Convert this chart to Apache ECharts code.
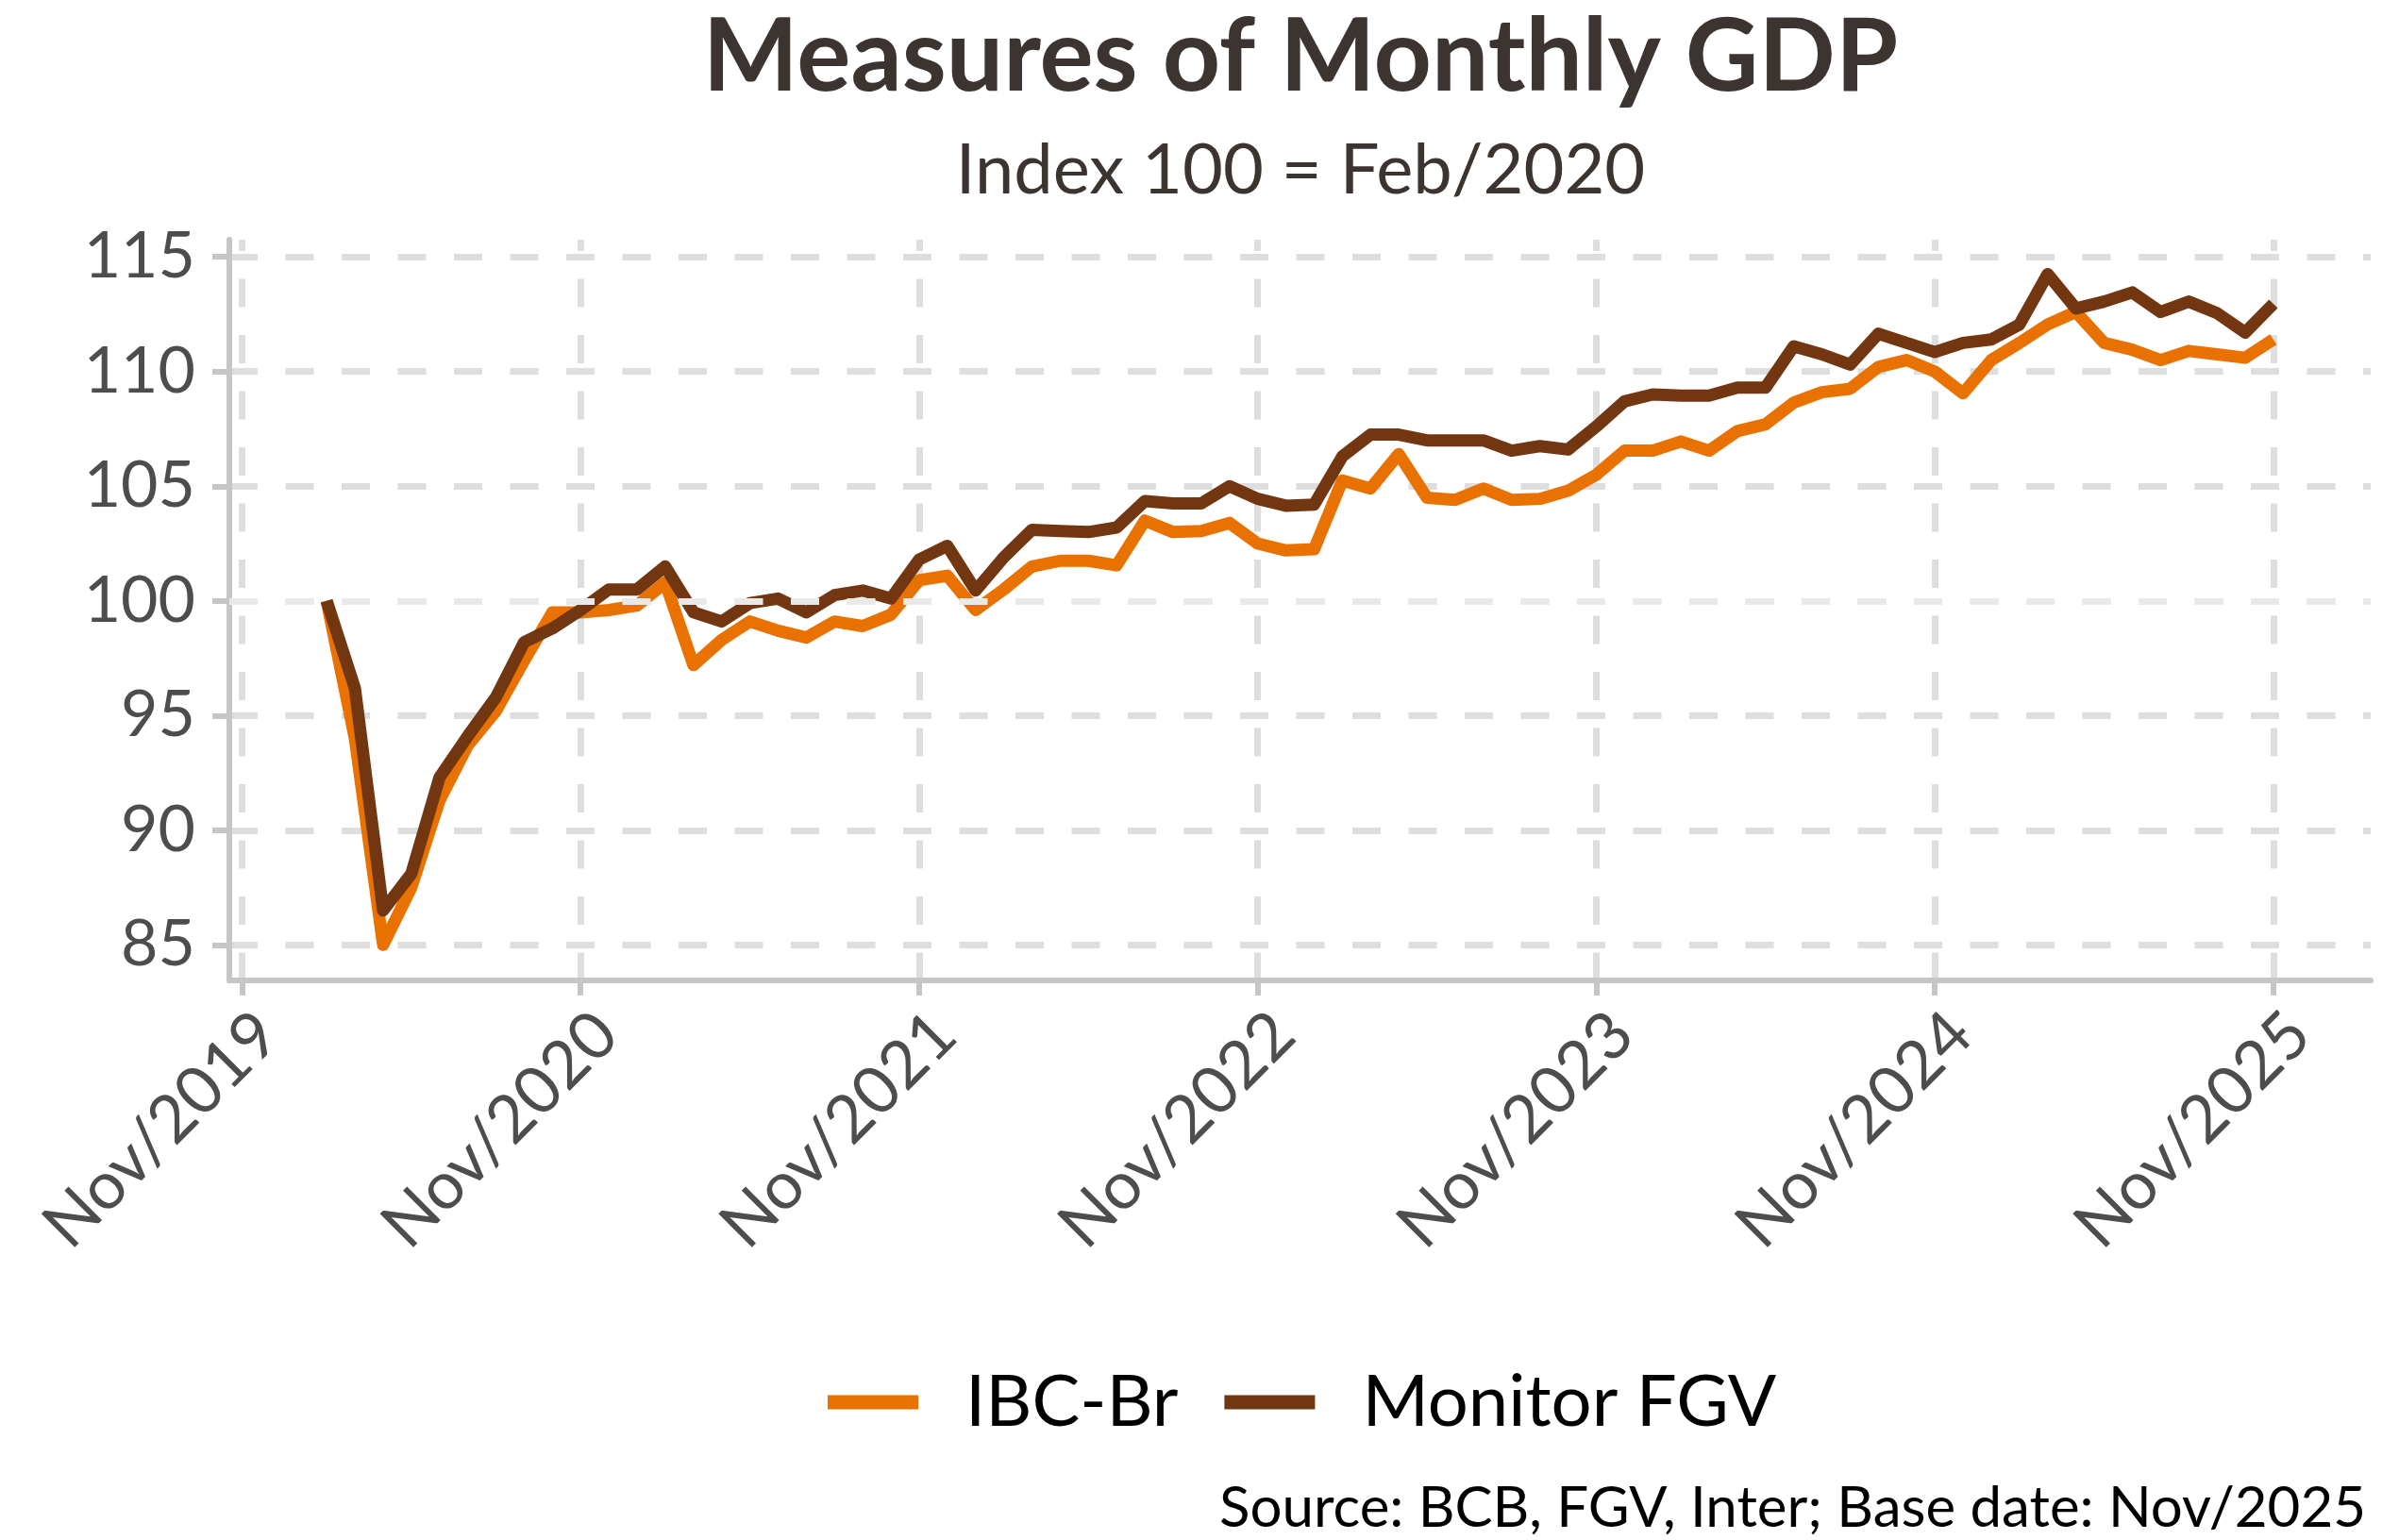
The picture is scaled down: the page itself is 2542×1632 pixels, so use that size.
<!DOCTYPE html>
<html>
<head>
<meta charset="utf-8">
<title>Measures of Monthly GDP</title>
<script src="https://cdn.jsdelivr.net/npm/echarts@6/dist/echarts.min.js"></script>
<style>
  html, body { margin: 0; padding: 0; background: #fff; }
  #chart { width: 2542px; height: 1632px; }
</style>
</head>
<body>
<div id="chart"></div>
<script>
// months of the two series (Feb/2020 .. Nov/2025)
const months = [
  "Feb/2020", "Mar/2020", "Apr/2020", "May/2020", "Jun/2020", "Jul/2020", "Aug/2020", "Sep/2020", "Oct/2020", "Nov/2020", "Dec/2020",
  "Jan/2021", "Feb/2021", "Mar/2021", "Apr/2021", "May/2021", "Jun/2021", "Jul/2021", "Aug/2021", "Sep/2021", "Oct/2021", "Nov/2021", "Dec/2021",
  "Jan/2022", "Feb/2022", "Mar/2022", "Apr/2022", "May/2022", "Jun/2022", "Jul/2022", "Aug/2022", "Sep/2022", "Oct/2022", "Nov/2022", "Dec/2022",
  "Jan/2023", "Feb/2023", "Mar/2023", "Apr/2023", "May/2023", "Jun/2023", "Jul/2023", "Aug/2023", "Sep/2023", "Oct/2023", "Nov/2023", "Dec/2023",
  "Jan/2024", "Feb/2024", "Mar/2024", "Apr/2024", "May/2024", "Jun/2024", "Jul/2024", "Aug/2024", "Sep/2024", "Oct/2024", "Nov/2024", "Dec/2024",
  "Jan/2025", "Feb/2025", "Mar/2025", "Apr/2025", "May/2025", "Jun/2025", "Jul/2025", "Aug/2025", "Sep/2025", "Oct/2025", "Nov/2025"
];

// IBC-Br, index Feb/2020 = 100
const ibcBr = [
  100, 94.0, 85.0, 87.5, 91.3, 93.7, 95.2, 97.4, 99.5, 99.5, 99.6,
  99.8, 100.8, 97.2, 98.3, 99.1, 98.7, 98.4, 99.1, 98.9, 99.4, 100.9, 101.1,
  99.6, 100.5, 101.5, 101.75, 101.75, 101.55, 103.5, 103.0, 103.05, 103.4, 102.5, 102.2,
  102.25, 105.25, 104.9, 106.4, 104.5, 104.4, 104.9, 104.4, 104.45, 104.8, 105.5, 106.55,
  106.55, 106.95, 106.55, 107.4, 107.7, 108.65, 109.1, 109.25, 110.2, 110.5, 110.0, 109.05,
  110.5, 111.25, 112.05, 112.6, 111.25, 110.95, 110.5, 110.9, 110.75, 110.6, 111.4
];

// Monitor do PIB FGV, index Feb/2020 = 100
const monitorFgv = [
  100, 96.2, 86.5, 88.1, 92.3, 94.1, 95.8, 98.2, 98.8, 99.6, 100.5,
  100.5, 101.5, 99.5, 99.1, 99.9, 100.1, 99.5, 100.25, 100.45, 100.1, 101.8, 102.4,
  100.45, 101.9, 103.1, 103.05, 103.0, 103.2, 104.35, 104.25, 104.25, 105.0, 104.45, 104.15,
  104.2, 106.3, 107.25, 107.25, 107.0, 107.0, 107.0, 106.55, 106.75, 106.6, 107.6, 108.7,
  109.0, 108.95, 108.95, 109.3, 109.3, 111.1, 110.75, 110.3, 111.65, 111.25, 110.85, 111.25,
  111.4, 112.05, 114.25, 112.75, 113.05, 113.45, 112.6, 113.05, 112.55, 111.7, 112.95
];

const xTickLabels = ["Nov/2019", "Nov/2020", "Nov/2021", "Nov/2022", "Nov/2023", "Nov/2024", "Nov/2025"];
const yTicks = [85, 90, 95, 100, 105, 110, 115];

const MON = ["Jan", "Feb", "Mar", "Apr", "May", "Jun", "Jul", "Aug", "Sep", "Oct", "Nov", "Dec"];
// months counted from Nov/2019
function monthIndex(label) {
  const [m, y] = label.split("/");
  return (Number(y) - 2019) * 12 + MON.indexOf(m) - 10;
}

const xTickPos = xTickLabels.map(monthIndex);
const labelAt = {};
xTickLabels.forEach((l, i) => { labelAt[xTickPos[i]] = l; });

const axisGray = "#c6c6c6";
const gridStyle = { color: "#dedede", width: 7, type: [30, 29.5] };

const chart = echarts.init(document.getElementById("chart"));
chart.setOption({
  animation: false,
  backgroundColor: "#fff",
  textStyle: { fontFamily: "Lato" },
  grid: { left: 243, right: 30, top: 254, bottom: 593 },
  xAxis: {
    type: "value",
    min: -0.45,
    max: 75.45,
    axisLine: { show: true, onZero: false, lineStyle: { color: axisGray, width: 6 } },
    axisTick: { show: true, length: 16, customValues: xTickPos, lineStyle: { color: axisGray, width: 6 } },
    axisLabel: {
      customValues: xTickPos,
      formatter: v => labelAt[v] || "",
      rotate: 45,
      margin: 24,
      padding: [0, -4, 0, 0],
      fontSize: 70,
      color: "#4d4d4d",
      align: "right",
      verticalAlign: "top"
    },
    splitLine: { show: true, lineStyle: Object.assign({ dashOffset: 18 }, gridStyle) }
  },
  yAxis: {
    type: "value",
    min: 83.45,
    max: 115.75,
    axisLine: { show: true, onZero: false, lineStyle: { color: axisGray, width: 6 } },
    axisTick: { show: true, length: 18, customValues: yTicks, lineStyle: { color: axisGray, width: 6 } },
    axisLabel: { customValues: yTicks, margin: 36, fontSize: 68, color: "#4d4d4d" },
    splitLine: { show: true, lineStyle: gridStyle }
  },
  legend: {
    data: ["IBC-Br", "Monitor FGV"],
    left: 872,
    top: 1443,
    icon: "rect",
    itemWidth: 96,
    itemHeight: 15,
    itemGap: 49,
    selectedMode: false,
    textStyle: { fontSize: 76, color: "#000", padding: [0, 0, 0, 45] }
  },
  series: [
    {
      name: "IBC-Br",
      type: "line",
      data: months.map((m, i) => [monthIndex(m), ibcBr[i]]),
      showSymbol: false,
      symbol: "none",
      z: 3,
      itemStyle: { color: "#e97100" },
      lineStyle: { color: "#e97100", width: 13, cap: "butt", join: "round" }
    },
    {
      name: "Monitor FGV",
      type: "line",
      data: months.map((m, i) => [monthIndex(m), monitorFgv[i]]),
      showSymbol: false,
      symbol: "none",
      z: 4,
      itemStyle: { color: "#723711" },
      lineStyle: { color: "#723711", width: 13, cap: "butt", join: "round" },
      // base line at 100, drawn over the series
      markLine: {
        silent: true,
        symbol: "none",
        z: 5,
        label: { show: false },
        lineStyle: { color: "#e9e9e9", width: 7, type: [30, 29.5] },
        data: [{ yAxis: 100 }]
      }
    }
  ],
  graphic: [
    {
      type: "text", x: 1378, y: 61,
      style: { text: "Measures of Monthly GDP", fontFamily: "Lato", fontWeight: "bold", fontSize: 107, fill: "#3c3431", align: "center", verticalAlign: "middle" }
    },
    {
      type: "text", x: 1378, y: 181,
      style: { text: "Index 100 = Feb/2020", fontFamily: "Lato", fontSize: 74, fill: "#3c3431", align: "center", verticalAlign: "middle" }
    },
    {
      type: "text", x: 2507, y: 1599,
      style: { text: "Source: BCB, FGV, Inter; Base date: Nov/2025", fontFamily: "Lato", fontSize: 60, fill: "#000", align: "right", verticalAlign: "middle" }
    }
  ]
});
</script>
</body>
</html>
